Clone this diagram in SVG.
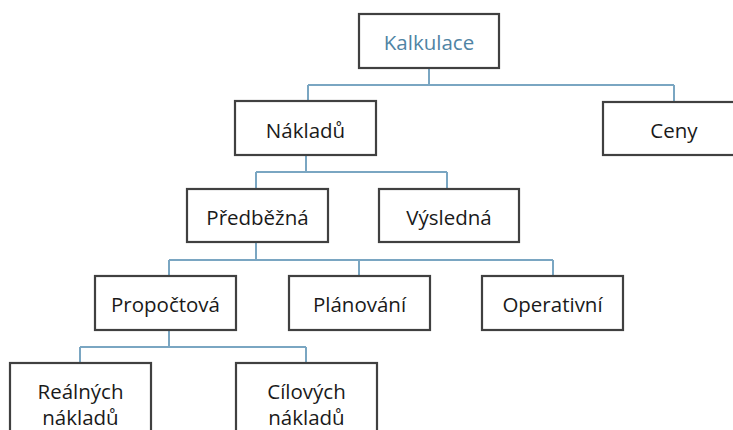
<svg xmlns="http://www.w3.org/2000/svg" width="733" height="430" viewBox="0 0 733 430">
<style>
.box{fill:#fff;stroke:#404040;stroke-width:2.2}
.lbl{font-family:"Open Sans","Noto Sans",sans-serif;font-size:20.5px;fill:#1a1a1a;text-anchor:middle}
.top{fill:#4f84a4}
.con{fill:none;stroke:#7aa6c2;stroke-width:2}
</style>
<rect width="733" height="430" fill="#fff"/>
<g id="connectors">
<path class="con" d="M429 68V85M308 85H674M308 85V101M674 85V102"/>
<path class="con" d="M306 155V172M256 172H447M256 172V189M447 172V189"/>
<path class="con" d="M256 242V260M169 260H553M169 260V276M359 260V276M553 260V276"/>
<path class="con" d="M169 330V347M80 347H306M80 347V363M306 347V363"/>
</g>
<g id="kalkulace"><rect class="box" x="359" y="14" width="140" height="54"/><text class="lbl top" x="429" y="50">Kalkulace</text></g>
<g id="nakladu"><rect class="box" x="235" y="101" width="141" height="54"/><text class="lbl" x="305.5" y="138">Nákladů</text></g>
<g id="ceny"><rect class="box" x="603" y="102" width="142" height="53"/><text class="lbl" x="674" y="138">Ceny</text></g>
<g id="predbezna"><rect class="box" x="187" y="189" width="141" height="53"/><text class="lbl" x="257.5" y="225">Předběžná</text></g>
<g id="vysledna"><rect class="box" x="379" y="189" width="140" height="53"/><text class="lbl" x="449" y="225">Výsledná</text></g>
<g id="propoctova"><rect class="box" x="95" y="276" width="141" height="54"/><text class="lbl" x="165.5" y="312">Propočtová</text></g>
<g id="planovani"><rect class="box" x="289" y="276" width="141" height="54"/><text class="lbl" x="359.5" y="312">Plánování</text></g>
<g id="operativni"><rect class="box" x="482" y="276" width="141" height="54"/><text class="lbl" x="552.5" y="312">Operativní</text></g>
<g id="realnych"><rect class="box" x="10" y="363" width="141" height="80"/><text class="lbl" x="80.5" y="399">Reálných</text><text class="lbl" x="80.5" y="425">nákladů</text></g>
<g id="cilovych"><rect class="box" x="236" y="363" width="141" height="80"/><text class="lbl" x="306.5" y="399">Cílových</text><text class="lbl" x="306.5" y="425">nákladů</text></g>
</svg>
